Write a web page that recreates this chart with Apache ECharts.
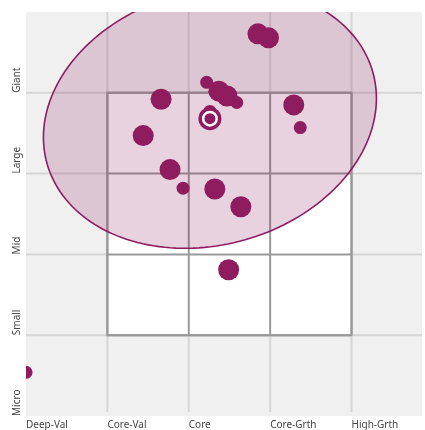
<!DOCTYPE html>
<html>
<head>
<meta charset="utf-8">
<script src="https://cdn.jsdelivr.net/npm/echarts@6/dist/echarts.min.js"></script>
<style>
html,body{margin:0;padding:0;background:#fff;}
#chart{width:425px;height:430px;}
</style>
</head>
<body>
<div id="chart"></div>
<script>
// ---- data ----
var styleLabels = ["Deep-Val", "Core-Val", "Core", "Core-Grth", "High-Grth"];
var sizeLabels = ["Micro", "Small", "Mid", "Large", "Giant"];
var gridValues = [1, 2, 3, 4];
var boxEdges = [1, 2, 3, 4];
// holdings: style score (x), size score (y), weight class
var holdingStyle = [2.85, 2.98, 2.22, 2.37, 2.47, 2.59, 1.66, 3.29, 3.37, 1.44, 2.26, 1.77, 1.93, 2.32, 2.64, 2.49, 0.00];
var holdingSize  = [4.73, 4.68, 4.13, 4.02, 3.96, 3.88, 3.92, 3.85, 3.57, 3.47, 3.77, 3.05, 2.82, 2.81, 2.59, 1.81, 0.54];
var holdingWeight = [2, 2, 1, 2, 2, 1, 2, 2, 1, 2, 1, 2, 1, 2, 2, 2, 1];
// portfolio centroid
var centroid = [2.26, 3.68];
// ownership zone ellipse: center, semi-axes, rotation (deg)
var zoneCenter = [2.26, 3.69];
var zoneAxes = [2.08, 1.57];
var zoneAngle = 16;

var purple = '#8e1c5e';

var holdings = holdingStyle.map(function (x, i) { return [x, holdingSize[i], holdingWeight[i]]; });

var chart = echarts.init(document.getElementById('chart'));

function rectClip(cs) {
  return { type: 'rect', shape: { x: cs.x, y: cs.y, width: cs.width, height: cs.height } };
}

var option = {
  animation: false,
  grid: {
    left: 26, top: 12, right: 0, height: 408,
    show: true, backgroundColor: '#f0f0f0', borderWidth: 0
  },
  xAxis: {
    type: 'value', min: 0, max: 4.866, interval: 1,
    axisLine: { show: false }, axisTick: { show: false }, splitLine: { show: false },
    axisLabel: {
      formatter: function (v) { return styleLabels[v] || ''; },
      align: 'left', verticalAlign: 'top', margin: 4,
      fontSize: 10, color: '#444', fontFamily: 'Noto Sans'
    }
  },
  yAxis: {
    type: 'value', min: 0, max: 5, interval: 1,
    axisLine: { show: false }, axisTick: { show: false }, splitLine: { show: false },
    axisLabel: {
      formatter: function (v) { return sizeLabels[v] || ''; },
      rotate: 90, align: 'left', verticalAlign: 'middle', margin: 9,
      fontSize: 10, color: '#444', fontFamily: 'Noto Sans'
    }
  },
  series: [
    {
      type: 'custom', z: 1, silent: true,
      data: gridValues,
      renderItem: function (params, api) {
        var cs = params.coordSys;
        var v = api.value(0);
        var px = api.coord([v, 0])[0];
        var py = api.coord([0, v])[1];
        return {
          type: 'group',
          children: [
            { type: 'line', shape: { x1: px, y1: cs.y, x2: px, y2: cs.y + cs.height - 4 },
              style: { stroke: '#d6d6d6', lineWidth: 2 } },
            { type: 'line', shape: { x1: cs.x, y1: py, x2: cs.x + cs.width, y2: py },
              style: { stroke: '#d6d6d6', lineWidth: 2 } }
          ]
        };
      }
    },
    {
      type: 'custom', z: 2, silent: true,
      data: [0],
      renderItem: function (params, api) {
        var lo = boxEdges[0], hi = boxEdges[boxEdges.length - 1];
        var tl = api.coord([lo, hi]);
        var br = api.coord([hi, lo]);
        var children = [{
          type: 'rect',
          shape: { x: tl[0], y: tl[1], width: br[0] - tl[0], height: br[1] - tl[1] },
          style: { fill: '#ffffff', stroke: '#999999', lineWidth: 2 }
        }];
        boxEdges.forEach(function (e) {
          var px = api.coord([e, lo])[0];
          var py = api.coord([lo, e])[1];
          children.push({ type: 'line', shape: { x1: px, y1: tl[1], x2: px, y2: br[1] },
            style: { stroke: '#999999', lineWidth: 2 } });
          children.push({ type: 'line', shape: { x1: tl[0], y1: py, x2: br[0], y2: py },
            style: { stroke: '#999999', lineWidth: 2 } });
        });
        return { type: 'group', children: children };
      }
    },
    {
      type: 'custom', z: 3, silent: true, clip: true,
      data: [0],
      renderItem: function (params, api) {
        var cs = params.coordSys;
        var th = zoneAngle * Math.PI / 180;
        var pts = [];
        for (var i = 0; i < 180; i++) {
          var t = i / 180 * Math.PI * 2;
          var ex = zoneAxes[0] * Math.cos(t), ey = zoneAxes[1] * Math.sin(t);
          var dx = ex * Math.cos(th) - ey * Math.sin(th);
          var dy = ex * Math.sin(th) + ey * Math.cos(th);
          pts.push(api.coord([zoneCenter[0] + dx, zoneCenter[1] + dy]));
        }
        return {
          type: 'polygon',
          shape: { points: pts },
          clipPath: rectClip(cs),
          style: { fill: 'rgba(142,28,94,0.2)', stroke: purple, lineWidth: 1.6 }
        };
      }
    },
    {
      type: 'custom', z: 4, clip: true,
      data: holdings,
      renderItem: function (params, api) {
        var cs = params.coordSys;
        var p = api.coord([api.value(0), api.value(1)]);
        var r = api.value(2) === 2 ? 10.5 : 6.5;
        return {
          type: 'circle',
          shape: { cx: p[0], cy: p[1], r: r },
          clipPath: rectClip(cs),
          style: { fill: purple }
        };
      }
    },
    {
      type: 'scatter', z: 5,
      data: [centroid],
      symbol: 'circle', symbolSize: 23,
      itemStyle: { color: purple, opacity: 1 }
    },
    {
      type: 'scatter', z: 6,
      data: [centroid],
      symbol: 'circle', symbolSize: 13.5,
      itemStyle: { color: purple, borderColor: '#ffffff', borderWidth: 2.5, opacity: 1 }
    }
  ]
};
chart.setOption(option);
</script>
</body>
</html>
